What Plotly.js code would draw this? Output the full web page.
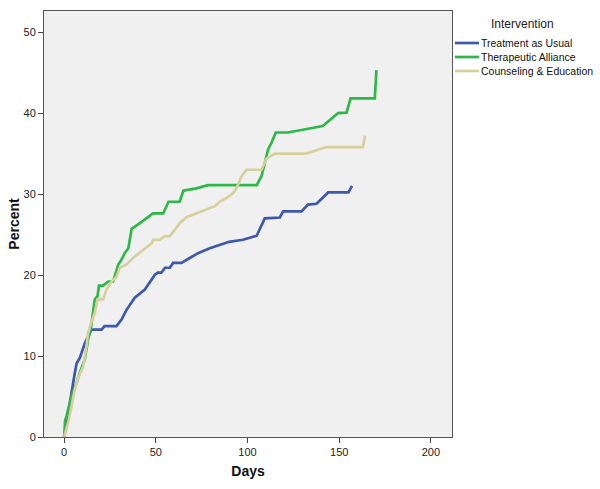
<!DOCTYPE html>
<html>
<head>
<meta charset="utf-8">
<script src="https://cdn.plot.ly/plotly-3.0.1.min.js"></script>
<style>html,body{margin:0;padding:0;background:#fff;}#chart{width:600px;height:489px;}</style>
</head>
<body>
<div id="chart"></div>
<script>
// Series names
var seriesNames = ["Treatment as Usual", "Therapeutic Alliance", "Counseling & Education"];
var seriesColors = ["#3E58AC", "#2EB848", "#D6D19C"];

// Treatment as Usual
var tauDays = [0, 1.85, 3.65, 5.8, 6.8, 8.6, 11.3, 14.9, 20.4, 22, 28.5, 31.3, 34, 38.5, 44, 49.4, 51, 53, 55, 57.6, 59.4, 64, 68.5, 73, 79.4, 85, 90, 97.5, 105, 109.4, 117.6, 119.4, 129.4, 133, 137.6, 144, 155, 157];
var tauPct  = [0, 2.6, 5.45, 7.9, 9.1, 9.8, 11.6, 13.25, 13.25, 13.7, 13.7, 14.5, 15.7, 17.2, 18.2, 20.0, 20.3, 20.3, 20.9, 20.9, 21.5, 21.5, 22.1, 22.7, 23.3, 23.7, 24.1, 24.35, 24.85, 27.0, 27.1, 27.85, 27.85, 28.7, 28.8, 30.2, 30.2, 31.0];

// Therapeutic Alliance
var taDays = [0, 0.5, 1.3, 4, 6.8, 8.6, 11.3, 12.2, 13, 14.6, 15.8, 16.7, 18.2, 19, 21.3, 24, 26.7, 28.5, 29.5, 31.3, 33, 35, 36.8, 41.3, 48.5, 54, 56.9, 63, 65, 72, 78.5, 105, 107.6, 109.4, 111.2, 113, 115.4, 122, 139.4, 141, 144.9, 149.4, 154, 156.2, 169.4, 170.3];
var taPct  = [0, 2.0, 2.6, 5.0, 6.7, 8.0, 9.6, 10.8, 12.0, 13.5, 15.5, 17.0, 17.4, 18.7, 18.7, 19.2, 19.2, 20.7, 21.3, 21.9, 22.7, 23.3, 25.7, 26.4, 27.6, 27.6, 29.05, 29.05, 30.4, 30.7, 31.1, 31.1, 32.2, 33.8, 35.5, 36.3, 37.6, 37.6, 38.4, 38.4, 39.15, 40.0, 40.05, 41.8, 41.8, 45.3];

// Counseling & Education
var ceDays = [0, 2.2, 4, 5.8, 7.6, 10.4, 12.2, 13, 15, 16.7, 18.2, 21.3, 23, 25.8, 28.5, 30.4, 34, 38.5, 42, 47.6, 48.5, 52, 55, 57.6, 60.4, 63, 66.7, 72.2, 77.6, 82.2, 85, 88.5, 92, 94, 96.7, 99.5, 107.6, 110.4, 115, 132, 143, 163, 164];
var cePct  = [0, 1.8, 3.8, 5.9, 7.3, 8.7, 11.2, 12.8, 14.3, 15.3, 17.0, 17.0, 18.2, 19.2, 19.8, 20.9, 21.3, 22.3, 22.9, 23.9, 24.35, 24.35, 24.8, 24.8, 25.6, 26.4, 27.15, 27.6, 28.05, 28.5, 29.1, 29.5, 30.1, 30.7, 32.2, 33.0, 33.0, 34.4, 35.0, 35.0, 35.8, 35.8, 37.2];

// Axis ticks
var xTicks = [0, 50, 100, 150, 200];
var yTicks = [0, 10, 20, 30, 40, 50];

var xs = [tauDays, taDays, ceDays];
var ys = [tauPct, taPct, cePct];

var traces = [];
for (var i = 0; i < 3; i++) {
  traces.push({
    x: xs[i], y: ys[i], type: "scatter", mode: "lines", name: seriesNames[i],
    line: {color: seriesColors[i], width: 2.7, shape: "linear"},
    showlegend: false, hoverinfo: "skip"
  });
}

var font = "Arial, 'Liberation Sans', sans-serif";
var shapes = [], annotations = [];
function py(p) { return (437 - p) / 426; }
function px(p) { return (p - 44) / 408; }
// manual legend (SPSS style)
annotations.push({xref: "paper", yref: "paper", x: px(522), y: py(24), xanchor: "center", yanchor: "middle",
  text: "Intervention", showarrow: false, font: {family: font, size: 12, color: "#222"}});
var legendY = [43, 57, 71];
for (var k = 0; k < 3; k++) {
  shapes.push({type: "line", xref: "paper", yref: "paper", x0: px(455), x1: px(479), y0: py(legendY[k]), y1: py(legendY[k]),
    line: {color: seriesColors[k], width: 2.7}});
  annotations.push({xref: "paper", yref: "paper", x: px(479), y: py(legendY[k]), xanchor: "left", yanchor: "middle",
    text: seriesNames[k], showarrow: false, font: {family: font, size: 10.5, color: "#111"}});
}

var layout = {
  width: 600, height: 489,
  margin: {l: 44, r: 148, t: 11, b: 52, pad: 0},
  paper_bgcolor: "#ffffff", plot_bgcolor: "#f0f0f0",
  font: {family: font, size: 11, color: "#222"},
  showlegend: false,
  xaxis: {
    range: [-11, 211.5], tickvals: xTicks, ticktext: xTicks.map(String),
    showgrid: false, zeroline: false, showline: true, mirror: true, linecolor: "#555", linewidth: 1,
    ticks: "outside", ticklen: 5, tickcolor: "#444", tickfont: {family: font, size: 11, color: "#222"},
    title: {text: "<b>Days</b>", font: {family: font, size: 14, color: "#111"}, standoff: 8}
  },
  yaxis: {
    range: [0, 52.6], tickvals: yTicks, ticktext: yTicks.map(String),
    showgrid: false, zeroline: false, showline: true, mirror: true, linecolor: "#555", linewidth: 1,
    ticks: "outside", ticklen: 5, tickcolor: "#444", tickfont: {family: font, size: 11, color: "#222"},
    title: {text: "<b>Percent</b>", font: {family: font, size: 14, color: "#111"}, standoff: 0}
  },
  shapes: shapes,
  annotations: annotations
};

Plotly.newPlot("chart", traces, layout, {displayModeBar: false, staticPlot: true});
</script>
</body>
</html>
